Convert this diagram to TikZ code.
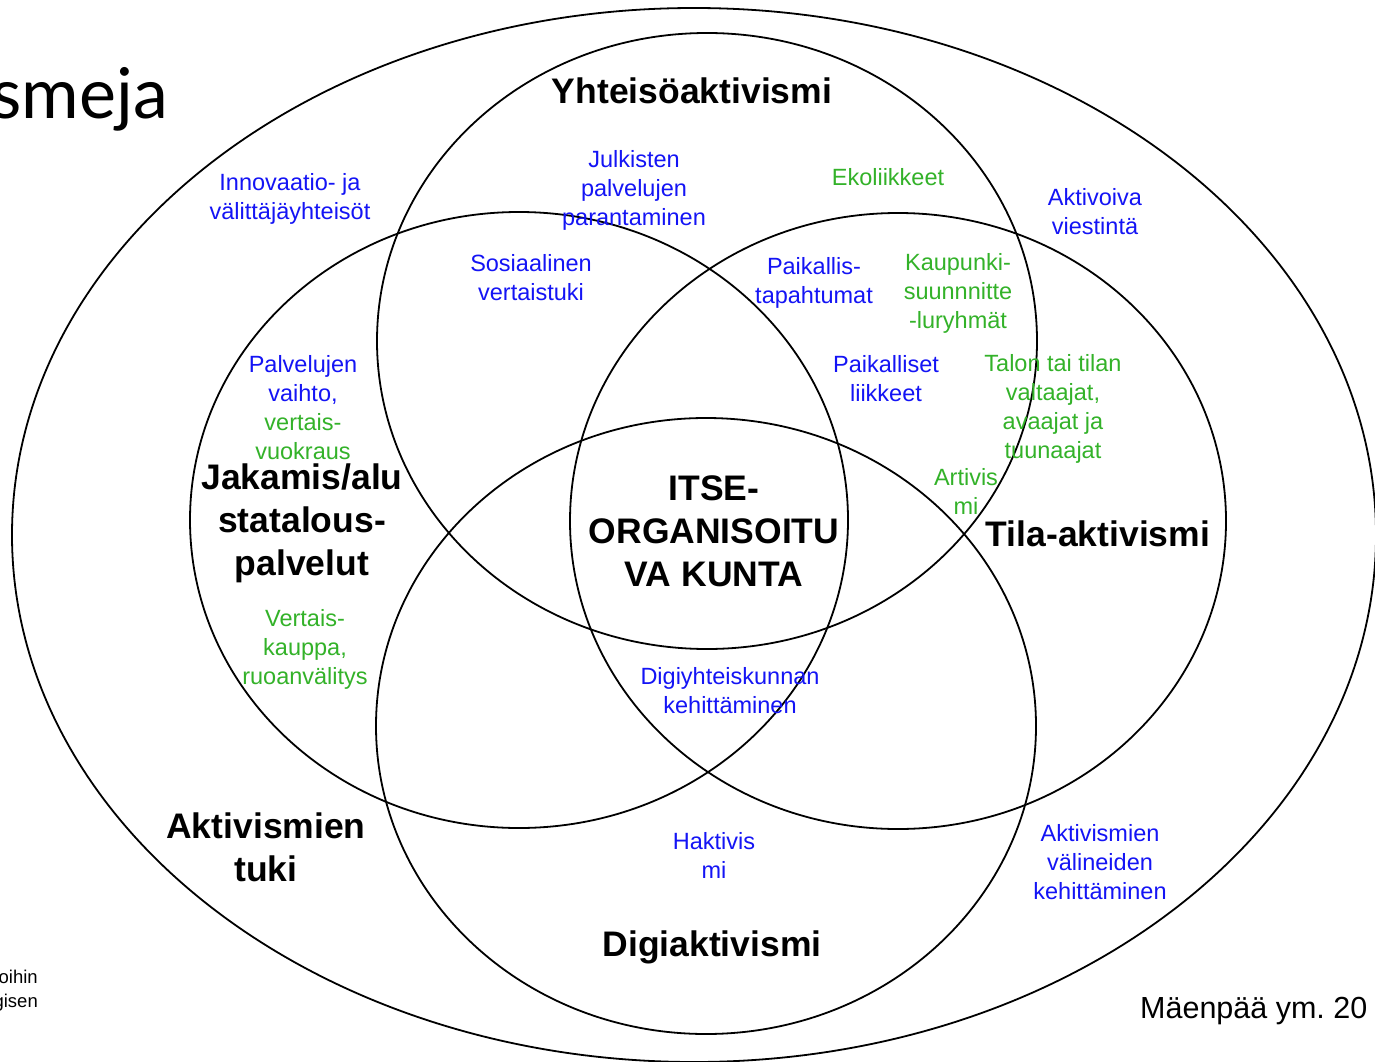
\documentclass[tikz,border=0pt]{standalone}
\usepackage{fontspec}
\setmainfont{Liberation Sans}
\newfontfamily\titlefont{Lato}
\definecolor{lblue}{RGB}{20,20,245}
\definecolor{lgreen}{RGB}{51,178,41}
\frenchspacing
\begin{document}
\begin{tikzpicture}[x=1pt,y=-1pt,
  ring/.style={draw=black,line width=1.8pt},
  bl/.style={text=lblue,align=center,inner sep=0pt,font=\fontsize{23.5}{29}\selectfont},
  gr/.style={text=lgreen,align=center,inner sep=0pt,font=\fontsize{23.5}{29}\selectfont},
  big/.style={text=black,align=center,inner sep=0pt,font=\fontsize{35.5}{43}\selectfont\bfseries}]
\useasboundingbox (0,0) rectangle (1375,1062);
\fill[white] (0,0) rectangle (1375,1062);
% rings
\draw[ring] (694,535) ellipse [x radius=682,y radius=527];
\draw[ring] (707,341) ellipse [x radius=330,y radius=308];
\draw[ring] (519,520) ellipse [x radius=329,y radius=308];
\draw[ring] (898,521) ellipse [x radius=328,y radius=308];
\draw[ring] (706,726) ellipse [x radius=330,y radius=308];
% fragments at the edges
\node[anchor=base east,inner sep=0pt,font=\titlefont\fontsize{70}{80}\selectfont] (title) at (168,118) {smeja};
\node[anchor=north east,align=right,inner sep=0pt,font=\fontsize{18.5}{24}\selectfont] (leftnote) at (38,970) {oihin\\gisen};
\node[anchor=base west,inner sep=0pt,font=\fontsize{30.5}{36}\selectfont] (cite) at (1140,1018) {Mäenpää ym. 20};
% bold labels
\node[big] (yht) at (692,91) {Yhteisöaktivismi};
\node[big] (jak) at (302,523) {Jakamis/alu\\statalous-\\palvelut};
\node[big] (itse) at (714,531) {ITSE-\\ORGANISOITU\\VA KUNTA};
\node[big] (tila) at (1098,534) {Tila-aktivismi};
\node[big] (tuki) at (266,847) {Aktivismien\\tuki};
\node[big] (digi) at (712,947) {Digiaktivismi};
% coloured labels
\node[bl] (innov) at (290,199) {Innovaatio- ja\\välittäjäyhteisöt};
\node[bl] (julk) at (634,190) {Julkisten\\palvelujen\\parantaminen};
\node[gr] (eko) at (888,177) {Ekoliikkeet};
\node[bl] (aktiv) at (1095,212) {Aktivoiva\\viestintä};
\node[bl] (sos) at (531,278) {Sosiaalinen\\vertaistuki};
\node[bl] (paik) at (814,283) {Paikallis-\\tapahtumat};
\node[gr] (kaup) at (958,293) {Kaupunki-\\suunnnitte\\-luryhmät};
\node[bl] (palv) at (303,380) {Palvelujen\\vaihto,};
\node[gr] (vert) at (303,437) {vertais-\\vuokraus};
\node[bl] (liik) at (886,379) {Paikalliset\\liikkeet};
\node[gr] (talon) at (1053,409) {Talon tai tilan\\valtaajat,\\avaajat ja\\tuunaajat};
\node[gr] (arti) at (966,491) {Artivis\\mi};
\node[gr] (kaup2) at (305,649) {Vertais-\\kauppa,\\ruoanvälitys};
\node[bl] (digiy) at (730,691) {Digiyhteiskunnan\\kehittäminen};
\node[bl] (hakt) at (714,855) {Haktivis\\mi};
\node[bl] (vali) at (1100,862) {Aktivismien\\välineiden\\kehittäminen};
\end{tikzpicture}
\end{document}
